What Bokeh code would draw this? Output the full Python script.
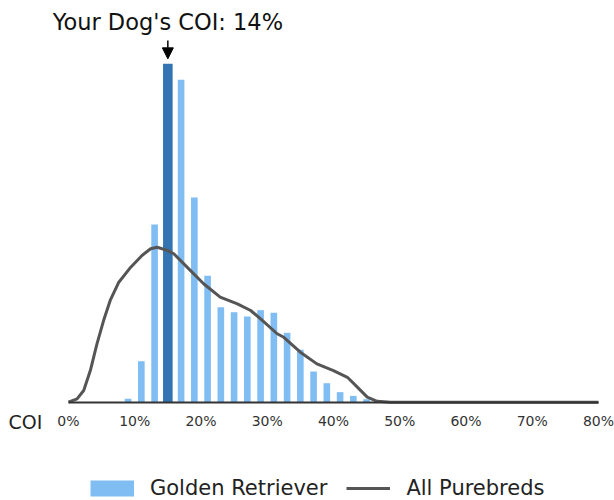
import pandas as pd
from bokeh.plotting import figure
from bokeh.models import (ColumnDataSource, Range1d, FixedTicker, Label, Arrow,
                          NormalHead, Legend, LegendItem)
from bokeh.embed import file_html
from bokeh.resources import INLINE

# ---------------- data ----------------
dog_coi = 14  # percent
breed_name = "Golden Retriever"
all_name = "All Purebreds"

# Golden Retriever histogram: 2%-wide bins, centres in %
bin_centers = [9, 11, 13, 15, 17, 19, 21, 23, 25, 27, 29, 31, 33, 35, 37, 39, 41, 43, 45, 47, 49]
breed_share = [0.18, 2.20, 9.55, 18.19, 17.33, 11.01, 6.80, 5.11, 4.84, 4.61, 4.95,
               4.81, 3.73, 2.82, 1.65, 1.02, 0.54, 0.34, 0.16, 0.08, 0.04]

# All purebreds density curve
all_x = [0.0, 1.3, 2.3, 3.3, 4.3, 5.3, 6.3, 7.6, 9.4, 11.1, 12.4, 13.4, 14.9, 15.9,
         17.9, 20.4, 22.9, 25.5, 27.5, 29.0, 31.5, 32.5, 35.0, 37.5, 40.0, 42.1,
         43.6, 45.1, 46.6, 48.6, 60.0, 80.0]
all_y = [0.0, 0.18, 0.63, 1.70, 3.14, 4.39, 5.47, 6.45, 7.26, 7.89, 8.25, 8.33, 8.16, 7.98,
         7.26, 6.37, 5.65, 5.29, 4.93, 4.48, 3.68, 3.49, 2.69, 2.06, 1.70, 1.34,
         0.81, 0.27, 0.05, 0.0, 0.0, 0.0]

tick_values = [0, 10, 20, 30, 40, 50, 60, 70, 80]
tick_labels = ["0%", "10%", "20%", "30%", "40%", "50%", "60%", "70%", "80%"]

# ---------------- styling ----------------
LIGHT = "#80BDF3"
DARK = "#3375B2"
CURVE = "#555555"
FONT = "DejaVu Sans"

bins = pd.DataFrame({"x": bin_centers, "h": breed_share})
is_dog = (bins["x"] - 1 <= dog_coi) & (dog_coi < bins["x"] + 1)
light_src = ColumnDataSource(bins[~is_dog])
dark_src = ColumnDataSource(bins[is_dog])
dog_bin = float(bins[is_dog]["x"].iloc[0])
dog_h = float(bins[is_dog]["h"].iloc[0])

p = figure(width=614, height=500, output_backend="svg", toolbar_location=None,
           x_range=Range1d(-10.26, 82.42), y_range=Range1d(-5.285, 21.597),
           min_border=0)
p.outline_line_color = None
p.grid.visible = False
p.yaxis.visible = False
p.background_fill_color = "white"
p.border_fill_color = "white"

light_r = p.vbar(x="x", top="h", bottom=0, width=1.0, source=light_src,
                 fill_color=LIGHT, line_color=None)
p.vbar(x="x", top="h", bottom=0, width=1.45, source=dark_src,
       fill_color=DARK, line_color=None)
curve_r = p.line(all_x, all_y, line_color=CURVE, line_width=3)

# legend proxy for bars (solid swatch); NaN point so nothing is drawn in the plot
proxy = p.line(x=[float("nan")], y=[float("nan")], line_color=LIGHT, line_width=16)

xa = p.xaxis[0]
xa.fixed_location = 0
xa.bounds = (tick_values[0], tick_values[-1])
xa.ticker = FixedTicker(ticks=tick_values)
xa.major_label_overrides = {v: l for v, l in zip(tick_values, tick_labels)}
xa.axis_line_color = "#333333"
xa.axis_line_width = 2
xa.major_tick_line_color = None
xa.minor_tick_line_color = None
xa.major_tick_out = 0
xa.major_tick_in = 0
xa.major_label_standoff = 11
xa.major_label_text_font = FONT
xa.major_label_text_font_size = "14px"
xa.major_label_text_color = "#333333"

p.add_layout(Label(x=-9.05, y=-1.04, text="COI", text_align="left",
                   text_baseline="middle", text_font=FONT, text_font_size="19px",
                   text_color="#222222"))

p.add_layout(Label(x=dog_bin, y=20.45, text=f"Your Dog's COI: {dog_coi}%",
                   text_align="center", text_baseline="alphabetic",
                   text_font=FONT, text_font_size="22.5px", text_color="#111111"))

p.add_layout(Arrow(end=NormalHead(size=11, fill_color="black", line_color="black"),
                   x_start=dog_bin, y_start=dog_h + 1.26, x_end=dog_bin, y_end=dog_h + 0.27,
                   line_color="black", line_width=1.5))

legend = Legend(items=[LegendItem(label=breed_name, renderers=[proxy]),
                       LegendItem(label=all_name, renderers=[curve_r])],
                orientation="horizontal", location=(90, 0),
                glyph_width=44, glyph_height=20, label_standoff=16, spacing=19,
                padding=0, margin=0, border_line_color=None, background_fill_alpha=0,
                label_text_font=FONT, label_text_font_size="21px",
                label_text_color="#222222")
p.add_layout(legend, "center")

open("out.html", "w").write(file_html(p, INLINE))
